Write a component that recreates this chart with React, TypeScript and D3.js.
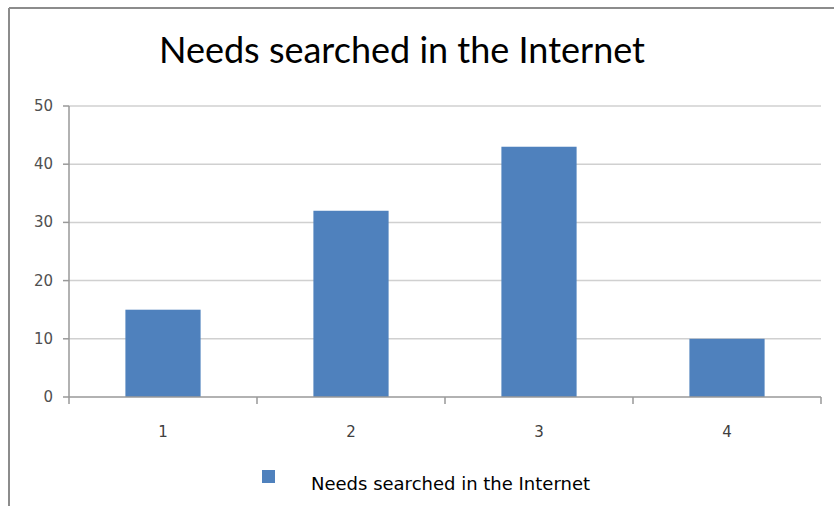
import React from "react";
import * as d3 from "d3";

const categories = ["1", "2", "3", "4"];
const values = [15, 32, 43, 10];
const yTicks = [0, 10, 20, 30, 40, 50];
const title = "Needs searched in the Internet";
const seriesName = "Needs searched in the Internet";

export default function App() {
  const W = 834, H = 506;
  const left = 69, right = 821, top = 106, bottom = 397;
  const x = d3.scaleBand().domain(categories).range([left, right]).paddingInner(0.6).paddingOuter(0.3);
  const xOuter = d3.scaleBand().domain(categories).range([left, right]);
  const y = d3.scaleLinear().domain([0, 50]).range([bottom, top]);
  const barColor = "#4f81bd";
  const labelFont = "'DejaVu Sans', sans-serif";
  return (
    <svg width={W} height={H} style={{ position: "absolute", left: 0, top: 0 }}>
      <rect x={0} y={0} width={W} height={H} fill="#fff" />
      <line x1={9} y1={8} x2={W} y2={8} stroke="#8c8c8c" strokeWidth={2} />
      <line x1={9} y1={8} x2={9} y2={H} stroke="#8c8c8c" strokeWidth={2} />
      <text x={402} y={63} textAnchor="middle" fontFamily="Lato, sans-serif" fontSize={36} fill="#000">{title}</text>
      {yTicks.map((t) => (
        <g key={t}>
          {t !== 0 && <line x1={left} x2={right} y1={y(t)} y2={y(t)} stroke="#d0d0d0" strokeWidth={1.5} />}
          <line x1={left - 6} x2={left} y1={y(t)} y2={y(t)} stroke="#999" strokeWidth={1.5} />
          <text x={53} y={y(t) + 5} textAnchor="end" fontFamily={labelFont} fontSize={15} fill="#505050">{t}</text>
        </g>
      ))}
      {values.map((v, i) => (
        <rect key={i} x={x(categories[i])!} y={y(v)} width={x.bandwidth()} height={y(0) - y(v)} fill={barColor} />
      ))}
      <line x1={left} x2={left} y1={top} y2={bottom} stroke="#999" strokeWidth={1.5} />
      <line x1={left} x2={right} y1={bottom} y2={bottom} stroke="#999" strokeWidth={1.5} />
      {[...categories.map((c) => xOuter(c)!), right].map((px, i) => (
        <line key={i} x1={px} x2={px} y1={bottom} y2={bottom + 7} stroke="#999" strokeWidth={1.5} />
      ))}
      {categories.map((c) => (
        <text key={c} x={xOuter(c)! + xOuter.bandwidth() / 2} y={437} textAnchor="middle" fontFamily={labelFont} fontSize={15} fill="#404040">{c}</text>
      ))}
      <rect x={262} y={470} width={13} height={13} fill={barColor} />
      <text x={311} y={490} fontFamily={labelFont} fontSize={18} fill="#000">{seriesName}</text>
    </svg>
  );
}
